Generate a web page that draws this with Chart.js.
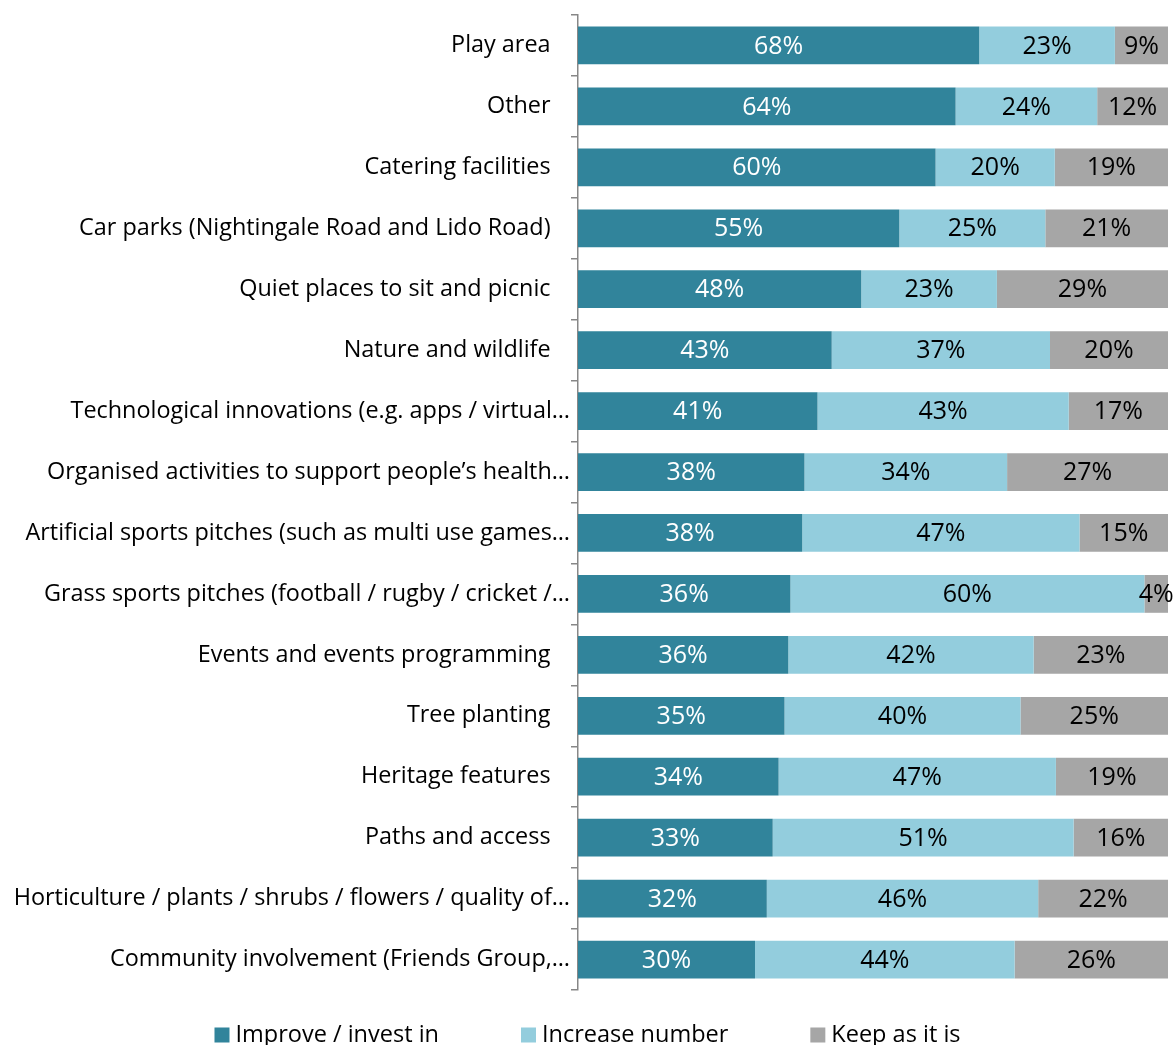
<!DOCTYPE html>
<html>
<head>
<meta charset="utf-8">
<script src="https://cdn.jsdelivr.net/npm/chart.js@4.4.1/dist/chart.umd.min.js"></script>
<style>
  html, body { margin: 0; padding: 0; background: #fff; overflow: hidden; }
  #wrap { width: 1175px; height: 1045px; position: relative; }
</style>
</head>
<body>
<div id="wrap"><canvas id="chart"></canvas></div>
<script>
const categories = [
  'Play area',
  'Other',
  'Catering facilities',
  'Car parks (Nightingale Road and Lido Road)',
  'Quiet places to sit and picnic',
  'Nature and wildlife',
  'Technological innovations (e.g. apps / virtual\u2026',
  'Organised activities to support people\u2019s health\u2026',
  'Artificial sports pitches (such as multi use games\u2026',
  'Grass sports pitches (football / rugby / cricket /\u2026',
  'Events and events programming',
  'Tree planting',
  'Heritage features',
  'Paths and access',
  'Horticulture / plants / shrubs / flowers / quality of\u2026',
  'Community involvement (Friends Group,\u2026'
];
const improve  = [68, 64, 60, 55, 48, 43, 41, 38, 38, 36, 36, 35, 34, 33, 32, 30];
const increase = [23, 24, 20, 25, 23, 37, 43, 34, 47, 60, 42, 40, 47, 51, 46, 44];
const keep     = [9, 12, 19, 21, 29, 20, 17, 27, 15, 4, 23, 25, 19, 16, 22, 26];
const seriesNames = ['Improve / invest in', 'Increase number', 'Keep as it is'];

const FONT = '"Open Sans", Lato, sans-serif';
const raw = [improve, increase, keep];
// 100% stacked: scale each row to its total
const totals = improve.map((v, i) => v + increase[i] + keep[i]);
const norm = raw.map(arr => arr.map((v, i) => v / totals[i] * 100));

const colors = ['#31849B', '#93CDDD', '#A6A6A6'];
const labelColors = ['#ffffff', '#000000', '#000000'];

const valueLabels = {
  id: 'valueLabels',
  afterDatasetsDraw(chart) {
    const ctx = chart.ctx;
    ctx.save();
    ctx.font = '25px ' + FONT;
    ctx.textAlign = 'center';
    ctx.textBaseline = 'middle';
    chart.data.datasets.forEach((ds, di) => {
      const meta = chart.getDatasetMeta(di);
      meta.data.forEach((bar, i) => {
        const x = (bar.x + bar.base) / 2;
        ctx.fillStyle = labelColors[di];
        ctx.fillText(raw[di][i] + '%', x, bar.y + 1);
      });
    });
    ctx.restore();
  }
};

// legend drawn below the plot, centred on the canvas
const bottomLegend = {
  id: 'bottomLegend',
  afterDraw(chart) {
    const ctx = chart.ctx;
    const box = 15, gap = 6, spacing = 82;
    ctx.save();
    ctx.font = '23.5px ' + FONT;
    ctx.textBaseline = 'middle';
    const widths = chart.data.datasets.map(ds => box + gap + ctx.measureText(ds.label).width);
    const total = widths.reduce((a, b) => a + b, 0) + spacing * (widths.length - 1);
    let x = (chart.width - total) / 2;
    const y = 1035;
    chart.data.datasets.forEach((ds, i) => {
      ctx.fillStyle = ds.backgroundColor;
      ctx.fillRect(x, y - box / 2, box, box);
      ctx.fillStyle = '#000';
      ctx.fillText(ds.label, x + box + gap, y);
      x += widths[i] + spacing;
    });
    ctx.restore();
  }
};

new Chart(document.getElementById('chart'), {
  type: 'bar',
  data: {
    labels: categories,
    datasets: seriesNames.map((name, i) => ({
      label: name,
      data: norm[i],
      backgroundColor: colors[i],
      borderWidth: 0,
      categoryPercentage: 1,
      barPercentage: 0.62
    }))
  },
  options: {
    indexAxis: 'y',
    responsive: true,
    maintainAspectRatio: false,
    animation: false,
    layout: { padding: { top: 15, right: 7, left: 0, bottom: 55 } },
    scales: {
      x: { stacked: true, min: 0, max: 100, display: false },
      y: {
        stacked: true,
        grid: { offset: true, drawOnChartArea: false, tickLength: 7, color: '#878787', lineWidth: 1.5 },
        border: { color: '#878787', width: 1.5 },
        ticks: {
          font: { family: FONT, size: 23.4 },
          color: '#000',
          padding: 1,
          // full labels sit a little further from the axis than the cut ones
          callback(v) {
            const s = this.getLabelForValue(v);
            return s.endsWith('\u2026') ? s : s + '\u2002\u2009\u2009';
          }
        },
        afterFit(scale) {
          scale.width = 578;
          scale.paddingTop = 0;
          scale.paddingBottom = 0;
        }
      }
    },
    plugins: {
      legend: { display: false },
      tooltip: { enabled: false }
    }
  },
  plugins: [valueLabels, bottomLegend]
});
</script>
</body>
</html>
